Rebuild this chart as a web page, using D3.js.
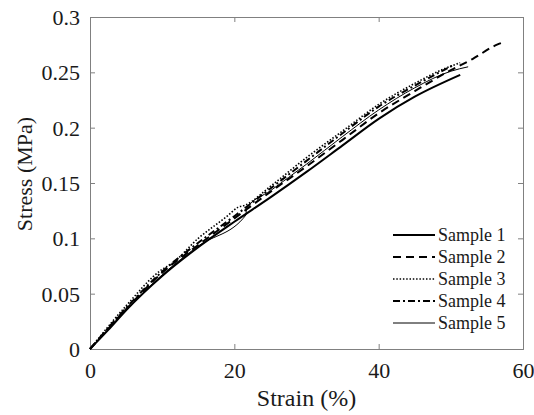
<!DOCTYPE html>
<html>
<head>
<meta charset="utf-8">
<script src="https://cdn.jsdelivr.net/npm/d3@7"></script>
</head>
<body style="margin:0">
<svg id="chart" width="534" height="415" font-family="Liberation Serif"></svg>
<script>
// strain (%) / stress (MPa) pairs
var sample1 = [[0,0],[2.5,0.017],[5,0.035],[10,0.066],[15,0.092],[20,0.115],[25,0.137],[30,0.16],[35,0.184],[40,0.208],[45,0.228],[51.3,0.2477]];
var sample2 = [[0,0],[5,0.036],[10,0.069],[15,0.094],[20,0.118],[25,0.142],[30,0.165],[35,0.189],[40,0.213],[45,0.233],[50,0.252],[53,0.262],[56.4,0.275],[57.2,0.277]];
var sample3 = [[0,0],[5,0.039],[10,0.072],[11.3,0.077],[15,0.1],[19,0.12],[20.5,0.128],[21.5,0.13],[25,0.147],[30,0.173],[35,0.197],[40,0.221],[45,0.24],[49,0.253],[51.3,0.2586]];
var sample4 = [[0,0],[5,0.037],[10,0.07],[15,0.096],[20,0.12],[25,0.145],[30,0.17],[35,0.195],[40,0.219],[45,0.238],[50.5,0.257]];
var sample5 = [[0,0],[5,0.035],[10,0.067],[15,0.093],[21.6,0.121],[21.7,0.127],[25,0.143],[30,0.167],[35,0.192],[40,0.216],[45,0.236],[50,0.251],[52.4,0.255]];

var sampleNames = ["Sample 1", "Sample 2", "Sample 3", "Sample 4", "Sample 5"];
var xTicks = [0, 20, 40, 60];
var yTicks = [0, 0.05, 0.1, 0.15, 0.2, 0.25, 0.3];

var series = [
    { name: sampleNames[0], values: sample1, width: 2,   dash: null },
    { name: sampleNames[1], values: sample2, width: 2,   dash: "8,5" },
    { name: sampleNames[2], values: sample3, width: 1.6, dash: "1.5,1.8" },
    { name: sampleNames[3], values: sample4, width: 2,   dash: "7,3,2,3" },
    { name: sampleNames[4], values: sample5, width: 1,   dash: null }
];

var serif = "'Liberation Serif'";

var svg = d3.select("svg#chart"),
    margin = { top: 17, right: 11, bottom: 66, left: 90 },
    width = +svg.attr("width") - margin.left - margin.right,
    height = +svg.attr("height") - margin.top - margin.bottom;

var x = d3.scaleLinear().domain([0, 60]).range([0, width]);
var y = d3.scaleLinear().domain([0, 0.3]).range([height, 0]);

var g = svg.append("g")
    .attr("transform", "translate(" + margin.left + "," + margin.top + ")");

var axisColor = "#808080";

function styleAxis(sel) {
    sel.attr("font-family", "Liberation Serif").attr("font-size", 22);
    sel.selectAll(".domain").attr("stroke", axisColor);
    sel.selectAll(".tick line").attr("stroke", axisColor);
    sel.selectAll(".tick text")
        .attr("font-size", 22)
        .style("font-family", serif)
        .attr("fill", "#1a1a1a");
}

// bottom + left with labels, top + right with inner ticks only
var xAxis = g.append("g")
    .attr("transform", "translate(0," + height + ")")
    .call(d3.axisBottom(x).tickValues(xTicks).tickSize(-5).tickPadding(13)
        .tickFormat(d3.format("d")));
styleAxis(xAxis);

var yAxis = g.append("g")
    .call(d3.axisLeft(y).tickValues(yTicks).tickSize(-5).tickPadding(10)
        .tickFormat(function(d) { return d === 0 ? "0" : String(+d.toFixed(2)); }));
styleAxis(yAxis);
yAxis.selectAll(".tick text").attr("dy", "0.34em");

var xTop = g.append("g")
    .call(d3.axisTop(x).tickValues(xTicks).tickSize(-5).tickFormat(""));
styleAxis(xTop);

var yRight = g.append("g")
    .attr("transform", "translate(" + width + ",0)")
    .call(d3.axisRight(y).tickValues(yTicks).tickSize(-5).tickFormat(""));
styleAxis(yRight);

// curves
var line = d3.line()
    .x(function(d) { return x(d[0]); })
    .y(function(d) { return y(d[1]); })
    .curve(d3.curveMonotoneX);

g.selectAll(".curve")
    .data(series)
    .enter().append("path")
        .attr("class", "curve")
        .attr("fill", "none")
        .attr("stroke", "#000")
        .attr("stroke-width", function(d) { return d.width; })
        .attr("stroke-dasharray", function(d) { return d.dash; })
        .attr("d", function(d) { return line(d.values); });

// axis titles
svg.append("text")
    .attr("x", margin.left + width / 2)
    .attr("y", 406)
    .attr("text-anchor", "middle")
    .attr("fill", "#1a1a1a")
    .attr("font-size", 24)
    .style("font-family", serif)
    .text("Strain (%)");

svg.append("text")
    .attr("transform", "translate(32," + (margin.top + height / 2 - 9) + ") rotate(-90)")
    .attr("text-anchor", "middle")
    .attr("fill", "#1a1a1a")
    .attr("font-size", 22)
    .style("font-family", serif)
    .text("Stress (MPa)");

// legend
var legend = svg.append("g")
    .attr("transform", "translate(393,235)");

var rows = legend.selectAll("g")
    .data(series)
    .enter().append("g")
        .attr("transform", function(d, i) { return "translate(0," + (i * 22) + ")"; });

rows.append("line")
    .attr("x1", 0).attr("x2", 42)
    .attr("y1", 0).attr("y2", 0)
    .attr("stroke", "#000")
    .attr("stroke-width", function(d) { return d.width; })
    .attr("stroke-dasharray", function(d) { return d.dash; });

rows.append("text")
    .attr("x", 45)
    .attr("y", 6)
    .attr("fill", "#1a1a1a")
    .attr("font-size", 18)
    .style("font-family", serif)
    .text(function(d) { return d.name; });
</script>
</body>
</html>
